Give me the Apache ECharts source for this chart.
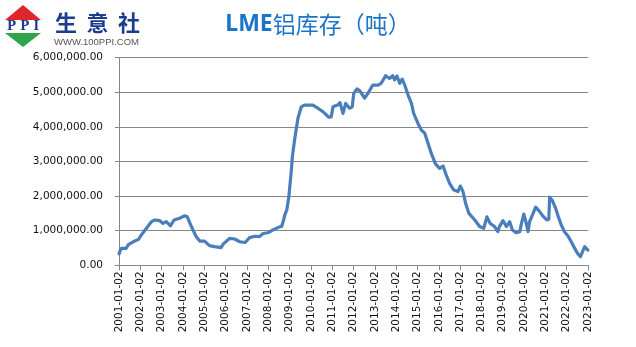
<!DOCTYPE html>
<html>
<head>
<meta charset="utf-8">
<script src="https://cdn.jsdelivr.net/npm/echarts@6/dist/echarts.min.js"></script>
<style>
  html, body { margin: 0; padding: 0; background: #fff; }
  #chart { width: 636px; height: 347px; }
</style>
</head>
<body>
<div id="chart"></div>
<script>
// LME aluminium stocks, tonnes
const dates = [
  '2001-01-02','2001-01-20','2001-02-10','2001-05-05','2001-06-10','2001-09-01','2001-12-01',
  '2002-01-20','2002-04-15','2002-07-10','2002-09-05','2002-12-01',
  '2003-01-25','2003-03-20','2003-06-01','2003-08-01','2003-11-05',
  '2004-01-25','2004-03-15','2004-05-25','2004-08-15','2004-10-15',
  '2005-01-05','2005-04-01','2005-06-25','2005-10-15','2005-11-20',
  '2006-03-10','2006-06-05','2006-09-01','2006-12-01',
  '2007-02-15','2007-05-15','2007-08-05','2007-10-05','2007-12-25',
  '2008-03-20','2008-06-15','2008-08-20','2008-09-20','2008-10-10','2008-11-15','2008-12-20',
  '2009-02-01','2009-02-18','2009-03-28','2009-05-25','2009-07-20','2009-09-15','2009-12-10',
  '2010-02-05','2010-05-01','2010-07-25','2010-11-05','2010-12-15',
  '2011-01-15','2011-04-05','2011-05-15','2011-07-05','2011-08-20','2011-10-25','2011-12-10',
  '2012-01-05','2012-03-01','2012-04-15','2012-07-10','2012-09-05','2012-11-28',
  '2013-02-25','2013-04-20','2013-07-05','2013-09-10','2013-11-05','2013-12-05',
  '2014-01-15','2014-03-05','2014-04-15','2014-05-28','2014-07-25','2014-09-20','2014-10-28',
  '2015-01-10','2015-03-08','2015-05-05','2015-07-01','2015-08-25','2015-11-05',
  '2016-01-15','2016-03-15','2016-05-08','2016-07-05','2016-09-12','2016-11-25',
  '2017-01-05','2017-02-20','2017-04-05','2017-06-01','2017-09-10','2017-12-01',
  '2018-02-10','2018-04-05','2018-06-01','2018-08-15','2018-10-10','2018-11-05',
  '2019-01-05','2019-03-05','2019-05-01','2019-06-15','2019-08-20','2019-10-20','2019-11-18',
  '2019-12-28','2020-02-01','2020-03-10','2020-04-05','2020-06-05','2020-07-18','2020-09-25',
  '2020-11-20','2021-01-25','2021-03-01','2021-03-15','2021-05-01','2021-06-25','2021-08-20',
  '2021-10-01','2021-11-25','2022-01-22','2022-03-20','2022-05-18','2022-07-12','2022-08-25',
  '2022-09-28','2022-11-05','2022-12-05','2022-12-30'
];
const stocks = [
  330000,420000,490000,490000,600000,680000,750000,
  880000,1070000,1260000,1310000,1290000,
  1210000,1260000,1140000,1310000,1360000,
  1430000,1400000,1120000,830000,700000,
  700000,570000,540000,510000,610000,
  780000,760000,680000,660000,
  800000,840000,830000,920000,940000,
  1020000,1090000,1130000,1300000,1450000,1600000,1980000,
  2750000,3140000,3620000,4250000,4580000,4630000,4630000,
  4630000,4540000,4440000,4280000,4290000,
  4580000,4630000,4700000,4390000,4680000,4540000,4580000,
  4970000,5100000,5050000,4830000,4970000,5210000,
  5210000,5260000,5480000,5400000,5480000,5360000,
  5470000,5260000,5380000,5210000,4920000,4680000,4390000,
  4100000,3910000,3820000,3530000,3240000,2930000,
  2800000,2870000,2610000,2370000,2180000,2130000,
  2290000,2130000,1790000,1500000,1310000,1120000,
  1070000,1400000,1210000,1120000,970000,1120000,
  1290000,1120000,1260000,1020000,940000,970000,1210000,
  1480000,1260000,970000,1260000,1500000,1680000,1550000,
  1420000,1310000,1330000,1970000,1870000,1650000,1360000,
  1160000,970000,850000,680000,490000,330000,250000,
  300000,540000,590000,440000
];
const yTicks = [0, 1000000, 2000000, 3000000, 4000000, 5000000, 6000000];
const firstYear = 2001, lastYear = 2023;
const brandChars = ['生', '意', '社'];

// date string -> fractional year for the value-type x axis
function toYear(s) {
  const [y, m, d] = s.split('-').map(Number);
  const start = Date.UTC(y, 0, 1), end = Date.UTC(y + 1, 0, 1);
  return y + (Date.UTC(y, m - 1, d) - start) / (end - start);
}
const seriesData = dates.map((d, i) => [toYear(d), stocks[i]]);

function fmtNum(v) {
  return v.toLocaleString('en-US', { minimumFractionDigits: 2, maximumFractionDigits: 2 });
}

// logo: house mark plus spaced brand characters
const logo = [
  { type: 'polygon', shape: { points: [[5, 20], [23, 5], [41, 20]] }, style: { fill: '#E0262B' } },
  { type: 'rect', shape: { x: 5, y: 20, width: 36, height: 13 }, style: { fill: '#ffffff' } },
  { type: 'polygon', shape: { points: [[5, 33], [41, 33], [23, 47]] }, style: { fill: '#2FA44A' } },
  { type: 'text', x: 23, y: 27, style: { text: 'P P I', fill: '#1B3D91', font: 'bold 12px "DejaVu Serif", serif', align: 'center', verticalAlign: 'middle' } },
  { type: 'text', x: 54, y: 42, style: { text: 'WWW.100PPI.COM', fill: '#555555', font: '9.5px "Liberation Sans", sans-serif', verticalAlign: 'middle' } }
];
brandChars.forEach((ch, i) => {
  logo.push({ type: 'text', x: 55 + i * 31.5, y: 22.5,
    style: { text: ch, fill: '#1B3D91', font: 'bold 22px "Noto Sans CJK SC", sans-serif', verticalAlign: 'middle' } });
});

const chart = echarts.init(document.getElementById('chart'), null, { renderer: 'canvas' });
chart.setOption({
  backgroundColor: '#ffffff',
  animation: false,
  title: {
    text: '{a|LME}{b|铝库存（吨）}',
    left: 313, top: 8, textAlign: 'center',
    textStyle: {
      rich: {
        a: { color: '#1C74C8', fontSize: 23, fontWeight: 'bold', fontFamily: '"Noto Sans", sans-serif' },
        b: { color: '#1C74C8', fontSize: 23, fontWeight: 'normal', fontFamily: '"Noto Sans CJK SC", sans-serif' }
      }
    }
  },
  grid: { left: 119, right: 48, top: 57.7, bottom: 81.7, containLabel: false },
  xAxis: {
    type: 'value',
    min: firstYear, max: lastYear, interval: 1,
    axisLine: { show: true, lineStyle: { color: '#868686', width: 1 } },
    axisTick: { show: true, length: 5, lineStyle: { color: '#868686' } },
    splitLine: { show: false },
    axisLabel: {
      rotate: 90, margin: 6, color: '#111111', fontSize: 10.5,
      fontFamily: '"DejaVu Sans", sans-serif',
      formatter: v => v + '-01-02'
    }
  },
  yAxis: {
    type: 'value',
    min: yTicks[0], max: yTicks[yTicks.length - 1], interval: 1000000,
    axisLine: { show: true, lineStyle: { color: '#868686', width: 1 } },
    axisTick: { show: true, length: 4, lineStyle: { color: '#868686' } },
    splitLine: { show: true, lineStyle: { color: '#868686', width: 1 } },
    axisLabel: {
      margin: 16, color: '#111111', fontSize: 10.5,
      fontFamily: '"DejaVu Sans", sans-serif',
      formatter: v => fmtNum(v)
    }
  },
  series: [{
    type: 'line',
    data: seriesData,
    showSymbol: false,
    smooth: false,
    lineStyle: { color: '#4A7EBB', width: 3.2, join: 'round', cap: 'round' },
    itemStyle: { color: '#4A7EBB' }
  }],
  graphic: logo
});
</script>
</body>
</html>
